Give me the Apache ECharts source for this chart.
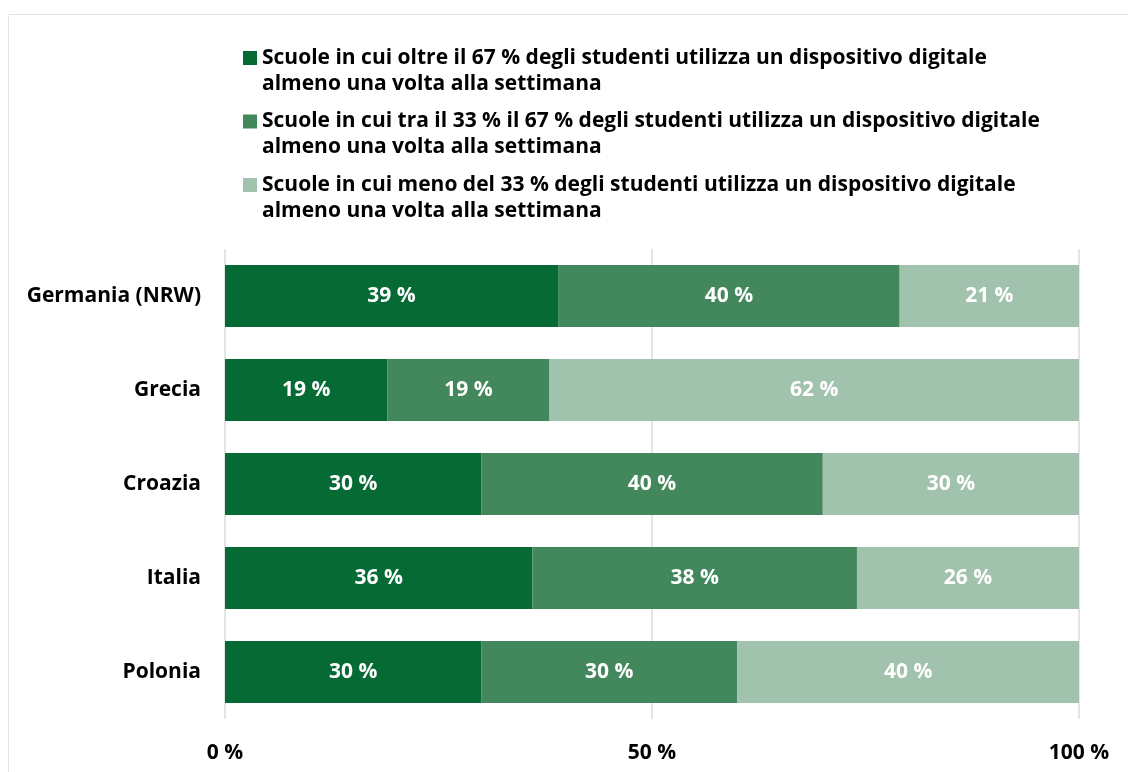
<!DOCTYPE html>
<html>
<head>
<meta charset="utf-8">
<title>Utilizzo di dispositivi digitali nelle scuole</title>
<script src="https://cdn.jsdelivr.net/npm/echarts@6/dist/echarts.min.js"></script>
<style>
  html, body { margin: 0; padding: 0; background: #ffffff; }
  #chart { width: 1128px; height: 772px; }
</style>
</head>
<body>
<div id="chart"></div>
<script>
// Paesi (dall'alto verso il basso)
const countries = ['Germania (NRW)', 'Grecia', 'Croazia', 'Italia', 'Polonia'];

// Quota di scuole (%) per fascia di utilizzo settimanale
const over67 = [39, 19, 30, 36, 30];
const between33and67 = [40, 19, 40, 38, 30];
const under33 = [21, 62, 30, 26, 40];

const seriesNames = [
  'Scuole in cui oltre il 67 % degli studenti utilizza un dispositivo digitale\nalmeno una volta alla settimana',
  'Scuole in cui tra il 33 % il 67 % degli studenti utilizza un dispositivo digitale\nalmeno una volta alla settimana',
  'Scuole in cui meno del 33 % degli studenti utilizza un dispositivo digitale\nalmeno una volta alla settimana'
];

const xTicks = { min: 0, max: 100, interval: 50 };

const colors = ['#066a34', '#43875c', '#a1c2ad'];
const FONT = '"Open Sans", "Noto Sans", sans-serif';
const FS = 21;

const chart = echarts.init(document.getElementById('chart'), null, { renderer: 'canvas' });

function barSeries(name, values, color) {
  return {
    name: name,
    type: 'bar',
    stack: 'total',
    data: values,
    barWidth: 62,
    itemStyle: { color: color },
    label: {
      show: true,
      position: 'inside',
      formatter: '{c} %',
      color: '#ffffff',
      fontFamily: FONT,
      fontWeight: 'bold',
      fontSize: FS
    },
    emphasis: { disabled: true }
  };
}

chart.setOption({
  animation: false,
  color: colors,
  textStyle: { fontFamily: FONT },
  graphic: [{
    type: 'rect',
    silent: true,
    z: -10,
    shape: { x: 8.5, y: 14.5, width: 1200, height: 800 },
    style: { fill: 'none', stroke: '#e3e3e3', lineWidth: 1 }
  }],
  legend: {
    orient: 'vertical',
    left: 243,
    top: 19,
    padding: 0,
    itemWidth: 14,
    itemHeight: 14,
    itemGap: -14.5,
    icon: 'rect',
    selectedMode: false,
    // a leading empty line keeps the square level with the first text line
    formatter: function (name) { return '\n' + name; },
    textStyle: {
      fontFamily: FONT,
      fontWeight: 'bold',
      fontSize: FS,
      color: '#000000',
      lineHeight: 26
    },
    data: seriesNames
  },
  grid: {
    left: 225,
    right: 49,
    top: 249,
    bottom: 53,
    containLabel: false
  },
  xAxis: {
    type: 'value',
    min: xTicks.min,
    max: xTicks.max,
    interval: xTicks.interval,
    axisLine: { show: false },
    axisTick: { show: false },
    splitLine: { show: true, lineStyle: { color: '#dcdcdc', width: 1.5 } },
    axisLabel: {
      formatter: '{value} %',
      margin: 24,
      color: '#000000',
      fontFamily: FONT,
      fontWeight: 'bold',
      fontSize: FS
    }
  },
  yAxis: {
    type: 'category',
    inverse: true,
    data: countries,
    axisLine: { show: false },
    axisTick: { show: false },
    splitLine: { show: false },
    axisLabel: {
      margin: 24,
      color: '#000000',
      fontFamily: FONT,
      fontWeight: 'bold',
      fontSize: FS
    }
  },
  series: [
    barSeries(seriesNames[0], over67, colors[0]),
    barSeries(seriesNames[1], between33and67, colors[1]),
    barSeries(seriesNames[2], under33, colors[2])
  ]
});
</script>
</body>
</html>
